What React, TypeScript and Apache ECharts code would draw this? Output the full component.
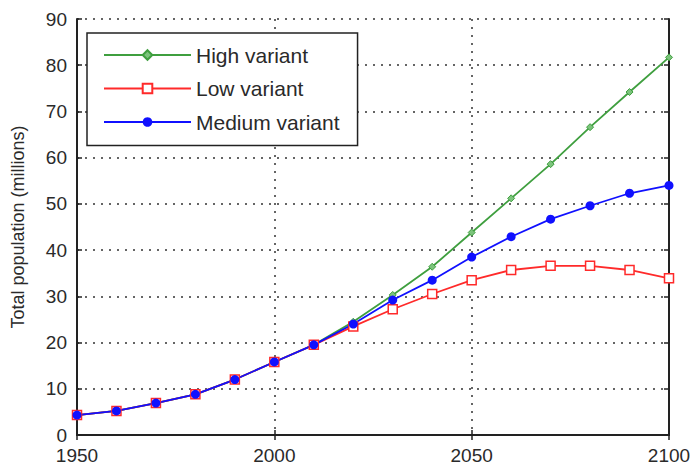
import React, { useEffect, useRef } from "react";
import * as echarts from "echarts";

const years = [1950, 1960, 1970, 1980, 1990, 2000, 2010, 2020, 2030, 2040, 2050, 2060, 2070, 2080, 2090, 2100];
const highVariant = [4.3, 5.2, 6.9, 8.8, 12.0, 15.8, 19.5, 24.5, 30.3, 36.4, 43.8, 51.2, 58.6, 66.6, 74.2, 81.7];
const lowVariant = [4.3, 5.2, 6.9, 8.8, 12.0, 15.8, 19.5, 23.5, 27.2, 30.5, 33.5, 35.7, 36.6, 36.6, 35.7, 33.9];
const mediumVariant = [4.3, 5.2, 6.9, 8.8, 12.0, 15.8, 19.5, 24.0, 29.2, 33.5, 38.5, 42.9, 46.7, 49.6, 52.3, 54.0];
const seriesNames = ["High variant", "Low variant", "Medium variant"];
const yTitle = "Total population (millions)";

const FONT = "Liberation Sans, Arial, sans-serif";
const TXT = "#2a2a2a";

export default function App() {
  const ref = useRef<HTMLDivElement>(null);
  useEffect(() => {
    if (!ref.current) return;
    const chart = echarts.init(ref.current, undefined, { renderer: "svg" });
    const pair = (vals: number[]) => years.map((y, i) => [y, vals[i]]);
    const gridLine = { show: true, lineStyle: { color: "#333", type: [2, 6] as any, width: 1.5 } };
    const tick = { show: true, inside: true, length: 5, lineStyle: { color: "#222", width: 1.5 } };
    const axisLine = { show: true, lineStyle: { color: "#222", width: 2 } };
    chart.setOption({
      animation: false,
      backgroundColor: "#fff",
      textStyle: { fontFamily: FONT },
      grid: { left: 77, right: 26, top: 19, bottom: 35, containLabel: false },
      legend: {
        orient: "vertical",
        left: 87,
        top: 33,
        data: seriesNames,
        itemWidth: 87,
        itemHeight: 12,
        itemGap: 12.5,
        padding: [11.5, 18, 13, 16],
        borderColor: "#222",
        borderWidth: 1.5,
        backgroundColor: "#fff",
        textStyle: { fontSize: 21, color: TXT, fontFamily: FONT },
      },
      xAxis: [
        {
          type: "value",
          min: 1950,
          max: 2100,
          interval: 50,
          axisLine,
          axisTick: tick,
          splitLine: gridLine,
          axisLabel: { fontSize: 19, color: TXT, margin: 11, fontFamily: FONT, formatter: (v: number) => String(v) },
        },
        {
          type: "value",
          position: "top",
          min: 1950,
          max: 2100,
          interval: 50,
          axisLine,
          axisTick: tick,
          splitLine: { show: false },
          axisLabel: { show: false },
        },
      ],
      yAxis: [
        {
          type: "value",
          min: 0,
          max: 90,
          interval: 10,
          name: yTitle,
          nameLocation: "middle",
          nameGap: 50,
          nameTextStyle: { fontSize: 18, color: TXT, fontFamily: FONT },
          axisLine,
          axisTick: tick,
          splitLine: gridLine,
          axisLabel: { fontSize: 19, color: TXT, margin: 10, fontFamily: FONT },
        },
        {
          type: "value",
          position: "right",
          min: 0,
          max: 90,
          interval: 10,
          axisLine,
          axisTick: tick,
          splitLine: { show: false },
          axisLabel: { show: false },
        },
      ],
      series: [
        {
          name: seriesNames[0],
          type: "line",
          data: pair(highVariant),
          symbol: "diamond",
          symbolSize: 7,
          color: "#3f9f3f",
          lineStyle: { width: 1.8, color: "#3f9f3f" },
          itemStyle: { color: "#7cc47c", borderColor: "#3f9f3f", borderWidth: 1 },
        },
        {
          name: seriesNames[1],
          type: "line",
          data: pair(lowVariant),
          symbol: "rect",
          symbolSize: 9,
          color: "#ff2a2a",
          lineStyle: { width: 1.8, color: "#ff2a2a" },
          itemStyle: { color: "#fff", borderColor: "#ff2a2a", borderWidth: 1.5 },
        },
        {
          name: seriesNames[2],
          type: "line",
          data: pair(mediumVariant),
          symbol: "circle",
          symbolSize: 9,
          color: "#1010ff",
          lineStyle: { width: 1.8, color: "#1010ff" },
          itemStyle: { color: "#1010ff" },
        },
      ],
    });
    return () => chart.dispose();
  }, []);
  return <div ref={ref} style={{ width: 695, height: 470, position: "absolute", left: 0, top: 0 }} />;
}
